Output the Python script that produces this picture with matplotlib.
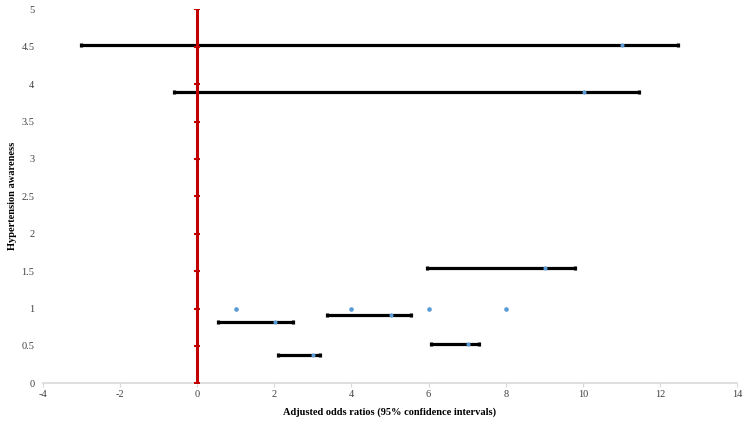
import matplotlib.pyplot as plt
import numpy as np

plt.rcParams['font.family'] = ['Liberation Serif', 'DejaVu Serif']
plt.rcParams['axes.unicode_minus'] = False

# estimates with 95% CI
or_x = [11.0, 10.03, 9.02, 5.02, 2.01, 7.01, 3.01]
or_y = [4.52, 3.89, 1.545, 0.913, 0.815, 0.53, 0.38]
ci_low = [-3.01, -0.6, 5.96, 3.38, 0.55, 6.07, 2.1]
ci_high = [12.47, 11.45, 9.8, 5.54, 2.48, 7.31, 3.18]

# points without intervals
lone_x = [1, 4, 6, 8]
lone_y = [1, 1, 1, 1]

# reference line at OR = 0
ref_y = np.arange(0, 5.01, 0.5)
ref_x = np.zeros_like(ref_y)

fig = plt.figure(figsize=(7.5, 4.22), dpi=100)
ax = fig.add_axes([0.057, 0.0917, 0.926, 0.886])

xerr = [np.array(or_x) - np.array(ci_low), np.array(ci_high) - np.array(or_x)]
ax.errorbar(or_x, or_y, xerr=xerr, fmt='none', ecolor='black', elinewidth=2.3,
            capsize=1.6, capthick=2.3, zorder=2)
ax.plot(ref_x, ref_y, color='#c00000', lw=2.2, marker='_', markersize=5,
        markeredgewidth=1.5, zorder=3)
ax.scatter(or_x, or_y, s=9, color='#5b9bd5', zorder=4, linewidths=0)
ax.scatter(lone_x, lone_y, s=11, color='#5b9bd5', zorder=4, linewidths=0)

ax.set_xlim(-4, 14)
ax.set_ylim(0, 5)
ax.set_xticks(np.arange(-4, 15, 2))
ax.set_yticks(np.arange(0, 5.01, 0.5))
ax.set_yticklabels(['0', '0.5', '1', '1.5', '2', '2.5', '3', '3.5', '4', '4.5', '5'])

for s in ['top', 'right', 'left']:
    ax.spines[s].set_visible(False)
ax.spines['bottom'].set_color('#d9d9d9')
ax.spines['bottom'].set_linewidth(1.2)
ax.tick_params(axis='x', length=3, color='#d9d9d9', labelsize=7.5, pad=2,
               labelcolor='#404040')
ax.tick_params(axis='y', length=0, labelsize=7.5, pad=6, labelcolor='#404040')

ax.set_xlabel('Adjusted odds ratios (95% confidence intervals)', fontsize=7.5,
              fontweight='bold', labelpad=6)
ax.set_ylabel('Hypertension awareness', fontsize=7.5, fontweight='bold',
              labelpad=3)

fig.savefig('out.png', dpi=100)
